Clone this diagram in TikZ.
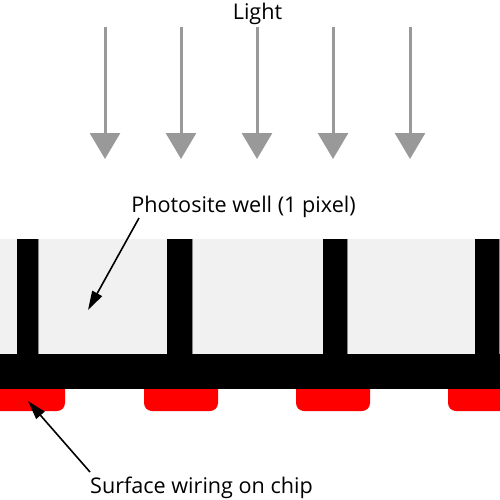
\documentclass[tikz,border=0pt]{standalone}
\usepackage{fontspec}
\setmainfont{Open Sans}
\usetikzlibrary{arrows.meta}
\definecolor{lightarrow}{HTML}{999999}
\definecolor{cellgray}{HTML}{F1F1F1}
\definecolor{edgegray}{HTML}{8A8A8A}
\definecolor{wirered}{HTML}{FF0000}
\tikzset{
  lightray/.style={draw=lightarrow, line width=3pt, -{Triangle[length=26pt,width=30pt]}},
  pointer/.style={draw=black, line width=1.6pt, -{Triangle[length=19pt,width=11pt]}},
  lbl/.style={font=\fontsize{21.6}{25}\selectfont, anchor=base, inner sep=0pt},
  cell/.style={fill=cellgray},
  cellline/.style={draw=edgegray, line width=0.8pt},
  wire/.style={fill=wirered, rounded corners=8pt},
}
\begin{document}
\begin{tikzpicture}[x=1pt,y=-1pt]
\useasboundingbox (0,0) rectangle (500,500);
\begin{scope}
\clip (0,0) rectangle (500,500);
% wells (light grey band)
\fill[cell] (0,239) rectangle (500,354);
% surface wiring pads
\foreach \a/\b in {-20/65, 144/218, 296/370, 448/520}
  \fill[wire] (\a,375) rectangle (\b,411);
% grey edges of the wells
\foreach \a/\b in {17/38, 167/192, 323/347, 475/499.5}{
  \draw[cellline] (\a,239) -- (\a,354);
  \draw[cellline] (\b,239) -- (\b,354);
}
\draw[cellline] (0,354) -- (500,354);
% black walls and base
\fill[black] (0,354.4) rectangle (499.5,389);
\foreach \a/\b in {17/38, 167/192, 323/347, 475/499.5}
  \fill[black] (\a+0.4,239) rectangle (\b-0.4,355);
\end{scope}
% light
\node[lbl] (light) at (257.5,20) {Light};
\foreach \i/\x in {1/105, 2/181, 3/257, 4/333, 5/410}{
  \coordinate (r\i s) at (\x,27);
  \coordinate (r\i e) at (\x,159);
  \draw[lightray] (r\i s) -- (r\i e);
}
% labels
\node[lbl] (well) at (243.5,212) {Photosite well (1 pixel)};
\node[lbl] (wiring) at (201.5,493) {Surface wiring on chip};
\coordinate (wellfrom) at (139,218);
\coordinate (wellto) at (88,310);
\coordinate (wirefrom) at (90,472);
\coordinate (wireto) at (28,401);
\draw[pointer] (wellfrom) -- (wellto);
\draw[pointer] (wirefrom) -- (wireto);
\end{tikzpicture}
\end{document}
